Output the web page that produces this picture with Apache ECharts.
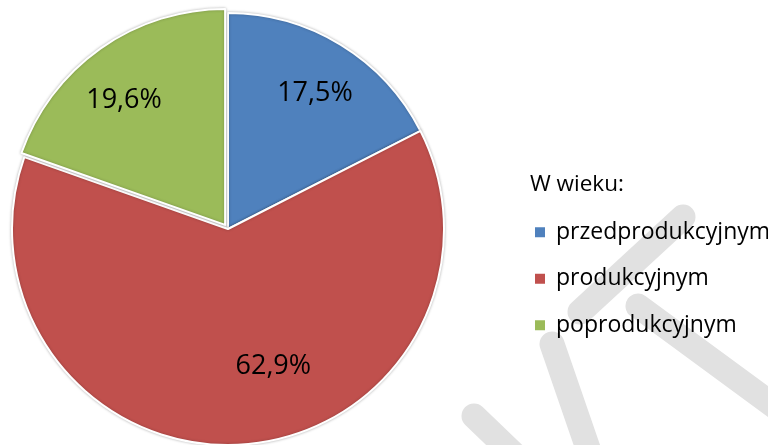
<!DOCTYPE html>
<html>
<head>
<meta charset="utf-8">
<script src="https://cdn.jsdelivr.net/npm/echarts@6/dist/echarts.min.js"></script>
<style>html,body{margin:0;padding:0;background:#fff}#c{width:768px;height:445px}</style>
</head>
<body>
<div id="c"></div>
<script>
var categories = ['przedprodukcyjnym', 'produkcyjnym', 'poprodukcyjnym'];
var values = [17.5, 62.9, 19.6];
var colors = ['#4F81BD', '#C0504D', '#9BBB59'];
var legendTitle = 'W wieku:';
var labelShift = [[29, -41], [38, 27], [-37, -34]];

var FONT = '"Open Sans", "Noto Sans", sans-serif';
var chart = echarts.init(document.getElementById('c'), null, {renderer: 'canvas'});

var data = categories.map(function (c, i) {
  return {
    name: c,
    value: values[i],
    selected: i === 2,
    itemStyle: {color: colors[i]}
  };
});

function wm(x1, y1, x2, y2) {
  return {
    type: 'line', z: 0, silent: true,
    shape: {x1: x1, y1: y1, x2: x2, y2: y2},
    style: {stroke: '#e1e1e1', lineWidth: 25, lineCap: 'round'}
  };
}

chart.setOption({
  animation: false,
  backgroundColor: '#fff',
  graphic: [
    wm(683, 217, 580, 312),
    wm(638, 306, 800, 425),
    wm(552, 344, 592, 460),
    wm(474, 416, 525, 465)
  ],
  title: {
    text: legendTitle,
    left: 525, top: 168,
    textStyle: {fontFamily: FONT, fontSize: 22.5, fontWeight: 'normal', color: '#000'}
  },
  legend: {
    orient: 'vertical',
    left: 528, top: 215,
    icon: 'rect',
    itemWidth: 12, itemHeight: 12,
    itemGap: 22,
    selectedMode: false,
    data: categories,
    textStyle: {fontFamily: FONT, fontSize: 23, color: '#000', lineHeight: 24.5, padding: [0, 0, 0, 5]}
  },
  series: [{
    type: 'pie',
    center: [228, 229],
    radius: 216,
    startAngle: 90,
    clockwise: true,
    selectedMode: 'single',
    selectedOffset: 5,
    avoidLabelOverlap: false,
    itemStyle: {borderColor: '#fff', borderWidth: 2, shadowBlur: 3, shadowColor: 'rgba(0,0,0,0.25)'},
    emphasis: {disabled: true},
    label: {
      show: true,
      position: 'inside',
      fontFamily: FONT,
      fontSize: 27,
      color: '#000',
      formatter: function (p) { return p.value.toFixed(1).replace('.', ',') + '%'; }
    },
    labelLine: {show: false},
    labelLayout: function (p) {
      var s = labelShift[p.dataIndex];
      return {dx: s[0], dy: s[1]};
    },
    data: data
  }]
});
</script>
</body>
</html>
